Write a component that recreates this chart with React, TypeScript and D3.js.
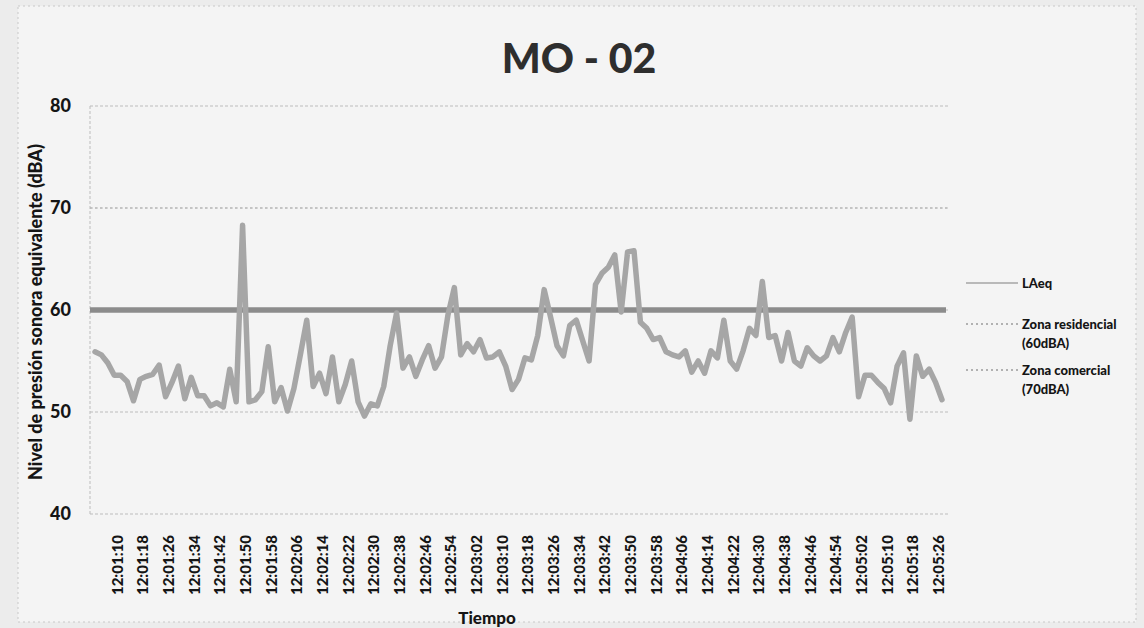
import React, { useEffect, useRef } from "react";
import * as d3 from "d3";

// LAeq readings, one every 2 seconds starting at 12:01:03
const START_TIME = "12:01:03";
const STEP_SEC = 2;
const LAEQ = [
  55.9, 55.6, 54.8, 53.6, 53.6, 53.0, 51.1, 53.2, 53.5, 53.7,
  54.6, 51.5, 52.9, 54.5, 51.3, 53.4, 51.6, 51.6, 50.6, 50.9,
  50.5, 54.2, 51.0, 68.3, 51.0, 51.2, 52.0, 56.4, 51.0, 52.4,
  50.1, 52.3, 55.6, 59.0, 52.5, 53.8, 51.8, 55.4, 51.0, 52.7,
  55.0, 51.0, 49.6, 50.8, 50.6, 52.5, 56.5, 59.7, 54.3, 55.4,
  53.5, 55.1, 56.5, 54.3, 55.4, 59.5, 62.2, 55.6, 56.7, 55.9,
  57.1, 55.3, 55.4, 55.9, 54.5, 52.2, 53.2, 55.3, 55.1, 57.5,
  62.0, 59.3, 56.5, 55.5, 58.5, 59.0, 57.0, 55.0, 62.5, 63.6,
  64.2, 65.4, 59.8, 65.7, 65.8, 58.8, 58.2, 57.1, 57.3, 55.9,
  55.6, 55.4, 56.0, 53.9, 55.0, 53.8, 56.0, 55.3, 59.0, 55.0,
  54.2, 56.0, 58.2, 57.5, 62.8, 57.3, 57.5, 55.0, 57.8, 55.0,
  54.5, 56.3, 55.5, 55.0, 55.5, 57.3, 55.9, 57.8, 59.3, 51.5,
  53.6, 53.6, 52.9, 52.3, 50.9, 54.5, 55.8, 49.3, 55.5, 53.5,
  54.2, 52.9, 51.2,
];

const TICK_LABELS = [
  "12:01:10", "12:01:18", "12:01:26", "12:01:34", "12:01:42", "12:01:50", "12:01:58",
  "12:02:06", "12:02:14", "12:02:22", "12:02:30", "12:02:38", "12:02:46", "12:02:54",
  "12:03:02", "12:03:10", "12:03:18", "12:03:26", "12:03:34", "12:03:42", "12:03:50",
  "12:03:58", "12:04:06", "12:04:14", "12:04:22", "12:04:30", "12:04:38", "12:04:46",
  "12:04:54", "12:05:02", "12:05:10", "12:05:18", "12:05:26",
];

const Y_TICKS = [40, 50, 60, 70, 80];
const RESIDENCIAL = 60;
const COMERCIAL = 70;

const LEGEND = [
  { lines: ["LAeq"], kind: "solid" },
  { lines: ["Zona residencial", "(60dBA)"], kind: "dot" },
  { lines: ["Zona comercial", "(70dBA)"], kind: "dot" },
];

const toSec = (s: string) => {
  const [h, m, sec] = s.split(":").map(Number);
  return h * 3600 + m * 60 + sec;
};

export default function App() {
  const svgRef = useRef<SVGSVGElement>(null);

  useEffect(() => {
    const width = 1144;
    const height = 628;
    const font = "Lato, 'Open Sans', sans-serif";
    const textColor = "#151515";
    const lineColor = "#a6a6a6";
    const limitColor = "#8c8c8c";
    const gridColor = "#bcbcbc";

    const svg = d3.select(svgRef.current);
    svg.selectAll("*").remove();
    svg.attr("width", width).attr("height", height).style("font-family", font);

    svg.append("rect").attr("width", width).attr("height", height).attr("fill", "#ececec");
    svg.append("rect")
      .attr("x", 18).attr("y", 6).attr("width", 1118).attr("height", 616)
      .attr("fill", "#f4f4f4")
      .attr("stroke", "#c8c8c8").attr("stroke-dasharray", "2,3");

    const t0 = toSec(START_TIME);
    const data = LAEQ.map((v, i) => ({ t: t0 + i * STEP_SEC, v }));
    const tEnd = data[data.length - 1].t;

    const x = d3.scaleLinear().domain([t0, tEnd]).range([95, 942]);
    const y = d3.scaleLinear().domain([40, 80]).range([514, 106]);
    const left = 90;
    const right = 950;

    // plot frame (dotted, like the scan)
    svg.append("line")
      .attr("x1", left).attr("x2", left).attr("y1", y(80)).attr("y2", y(40))
      .attr("stroke", gridColor).attr("stroke-dasharray", "3,2");

    svg.selectAll(".grid")
      .data(Y_TICKS)
      .join("line")
      .attr("x1", left).attr("x2", right)
      .attr("y1", d => y(d)).attr("y2", d => y(d))
      .attr("stroke", gridColor).attr("stroke-width", 1)
      .attr("stroke-dasharray", "3,2");

    // Zona comercial (70 dBA)
    svg.append("line")
      .attr("x1", left).attr("x2", right)
      .attr("y1", y(COMERCIAL)).attr("y2", y(COMERCIAL))
      .attr("stroke", "#b0b0b0").attr("stroke-width", 1.2)
      .attr("stroke-dasharray", "2,3");

    // Zona residencial (60 dBA)
    svg.append("line")
      .attr("x1", left).attr("x2", right - 4)
      .attr("y1", y(RESIDENCIAL)).attr("y2", y(RESIDENCIAL))
      .attr("stroke", limitColor).attr("stroke-width", 5.5);

    // LAeq
    const line = d3.line<{ t: number; v: number }>()
      .x(d => x(d.t))
      .y(d => y(d.v));

    svg.append("path")
      .datum(data)
      .attr("d", line)
      .attr("fill", "none")
      .attr("stroke", lineColor)
      .attr("stroke-width", 5.5)
      .attr("stroke-linejoin", "round")
      .attr("stroke-linecap", "round");

    // Y tick labels
    svg.selectAll(".ytick")
      .data(Y_TICKS)
      .join("text")
      .attr("x", 71).attr("y", d => y(d))
      .attr("dy", "0.35em")
      .attr("text-anchor", "end")
      .attr("fill", textColor)
      .style("font-size", "18px").style("font-weight", 900)
      .text(d => d);

    // X tick labels, rotated
    svg.selectAll(".xtick")
      .data(TICK_LABELS)
      .join("text")
      .attr("transform", d => `translate(${x(toSec(d))},535) rotate(-90)`)
      .attr("text-anchor", "end")
      .attr("dy", "0.35em")
      .attr("fill", textColor)
      .style("font-size", "15px").style("font-weight", 900)
      .text(d => d);

    // Title
    svg.append("text")
      .attr("x", 579).attr("y", 73)
      .attr("text-anchor", "middle")
      .attr("fill", "#2e2e2e")
      .style("font-size", "41px").style("font-weight", 900)
      .text("MO - 02");

    // Axis titles
    svg.append("text")
      .attr("transform", `translate(42,312) rotate(-90)`)
      .attr("text-anchor", "middle")
      .attr("fill", textColor)
      .style("font-size", "18px").style("font-weight", 900)
      .text("Nivel de presión sonora equivalente (dBA)");

    svg.append("text")
      .attr("x", 487).attr("y", 624)
      .attr("text-anchor", "middle")
      .attr("fill", textColor)
      .style("font-size", "17px").style("font-weight", 900)
      .text("Tiempo");

    // Legend
    const legendY = [283, 324, 370];
    LEGEND.forEach((item, i) => {
      const ly = legendY[i];
      svg.append("line")
        .attr("x1", 966).attr("x2", 1018)
        .attr("y1", ly).attr("y2", ly)
        .attr("stroke", item.kind === "solid" ? lineColor : "#9a9a9a")
        .attr("stroke-width", 1.5)
        .attr("stroke-dasharray", item.kind === "solid" ? null : "2,3");
      item.lines.forEach((txt, j) => {
        svg.append("text")
          .attr("x", 1022).attr("y", ly + j * 19)
          .attr("dy", "0.35em")
          .attr("fill", textColor)
          .style("font-size", "13px").style("font-weight", 900)
          .text(txt);
      });
    });
  }, []);

  return (
    <div style={{ position: "absolute", left: 0, top: 0 }}>
      <svg ref={svgRef} />
    </div>
  );
}
